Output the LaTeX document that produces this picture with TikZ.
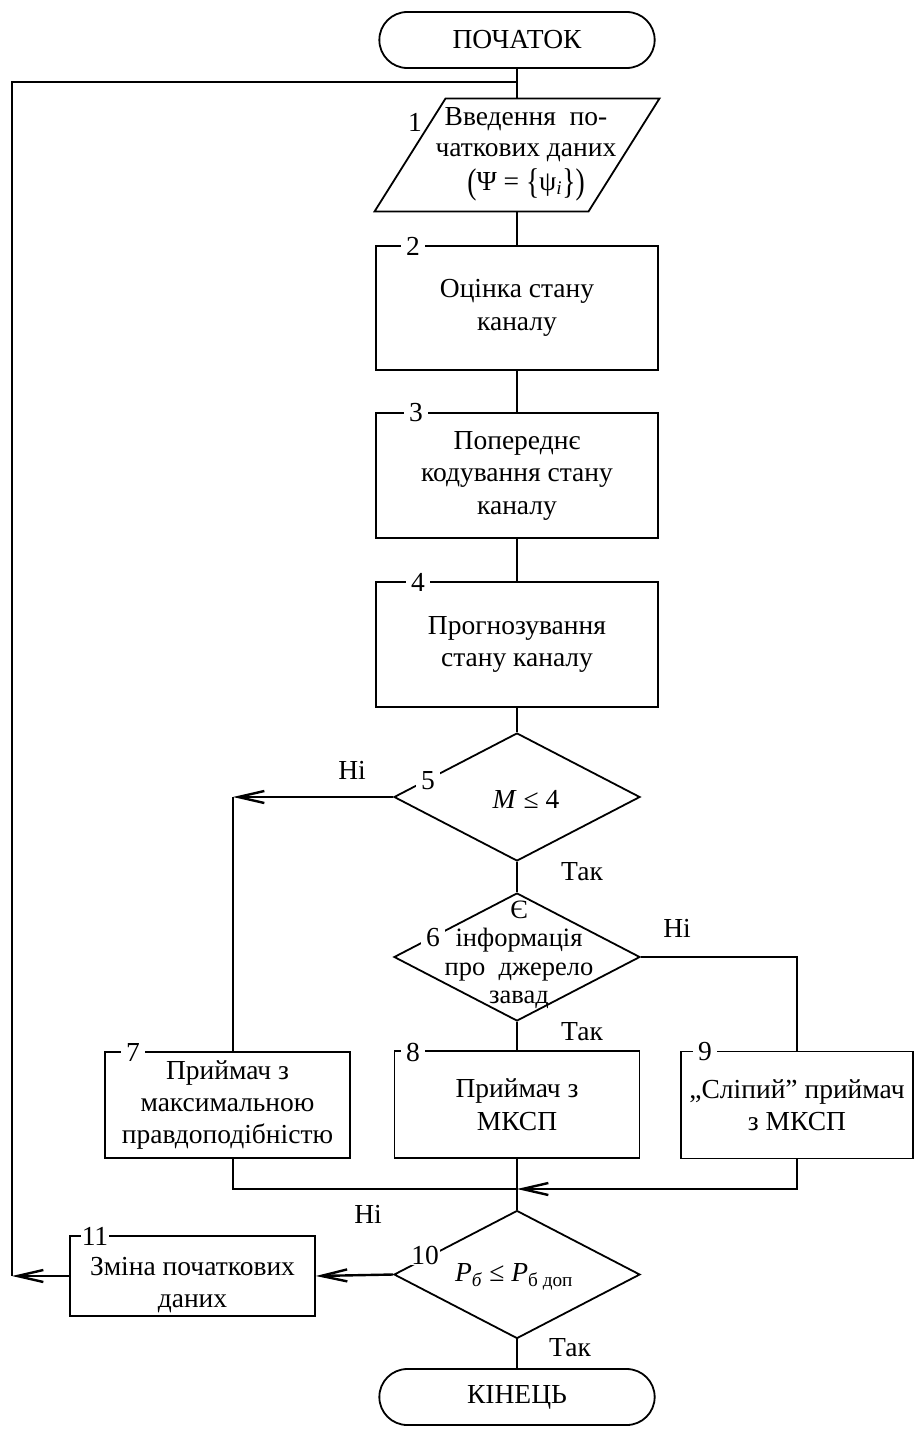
\documentclass[tikz,border=0pt]{standalone}
\usepackage{graphicx}
\usepackage{fontspec}
\setmainfont{Liberation Serif}
\usetikzlibrary{arrows.meta}
\usetikzlibrary{shapes.geometric}
\usetikzlibrary{shapes.misc}
\newcommand\tallp[1]{\raisebox{-0.1em}{\scalebox{1}[1.3]{#1}}}
\tikzstyle{fchead}=[>/.tip={Straight Barb[length=26pt,width=12pt]}]
\tikzstyle{fc}=[line width=1.8pt]
\tikzstyle{arr}=[line width=2.4pt,fchead,->]
\tikzstyle{blk}=[draw,line width=1.8pt,rectangle,align=center,inner sep=0pt]
\tikzstyle{term}=[draw,line width=1.8pt,rounded rectangle,minimum width=282pt,minimum height=56pt]
\tikzstyle{cond}=[draw,line width=1.8pt,diamond,minimum width=246pt,minimum height=128pt,inner sep=0pt]
\tikzstyle{inout}=[draw,line width=1.8pt,trapezium,trapezium left angle=63.6,trapezium right angle=116.4,trapezium stretches=true,minimum width=285pt,minimum height=113pt,inner sep=2pt]
\tikzstyle{num}=[fill=white,inner xsep=5pt,inner ysep=1pt]
\tikzstyle{txt}=[align=center,inner sep=0pt]
\begin{document}
\begin{tikzpicture}[x=1pt,y=-1pt,font=\fontsize{27.5}{32.5}\selectfont]
	\useasboundingbox (0,0) rectangle (915,1429);
	% main column
	\node[term] (st) at (517,40) {ПОЧАТОК};
	\node[inout] (in1) at (517,155) {};
	\node[txt,font=\fontsize{27.5}{31}\selectfont] (in1t) at (526,154) {Введення~~по-\\чаткових даних\\[3pt]\tallp{(}Ψ = \tallp{\{}ψ\textsubscript{\textit{i}}\tallp{\}}\tallp{)}};
	\node[blk,minimum width=282pt,minimum height=124pt] (b2) at (517,308) {Оцінка стану\\каналу};
	\node[blk,minimum width=282pt,minimum height=125pt] (b3) at (517,475.5) {Попереднє\\кодування стану\\каналу};
	\node[blk,minimum width=282pt,minimum height=125pt] (b4) at (517,644.5) {Прогнозування\\стану каналу};
	\node[cond] (d5) at (517,797) {};
	\node[txt] (d5t) at (526,799) {\textit{M} ≤ 4};
	\node[cond] (d6) at (517,957) {};
	\node[txt,font=\fontsize{26.5}{28.5}\selectfont] (d6t) at (519,955) {Є\\інформація\\про~~джерело\\завад};
	\node[blk,minimum width=245pt,minimum height=106pt] (b7) at (227.5,1105) {Приймач з\\максимальною\\правдоподібністю};
	\node[blk,minimum width=245pt,minimum height=107pt] (b8) at (517,1104.5) {Приймач з\\МКСП};
	\node[blk,minimum width=232pt,minimum height=107pt] (b9) at (797,1105) {„Сліпий” приймач\\з МКСП};
	\node[cond] (d10) at (517,1274.5) {};
	\node[txt] (d10t) at (514,1277) {\textit{P}\textsubscript{\textit{б}} ≤ \textit{P}\textsubscript{б доп}};
	\node[blk,minimum width=245pt,minimum height=80pt] (b11) at (192.5,1276) {\rule{0pt}{36pt}Зміна початкових\\даних};
	\node[term] (en) at (517,1397) {КІНЕЦЬ};
	% block numbers
	\node[num,inner xsep=1pt] (n1) at (415,122) {1};
	\node[num] (n2) at (413,246) {2};
	\node[num] (n3) at (416,413) {3};
	\node[num] (n4) at (418,582) {4};
	\node[num] (n5) at (428,781) {5};
	\node[num] (n6) at (433,938) {6};
	\node[num] (n7) at (133,1052) {7};
	\node[num] (n8) at (413,1052) {8};
	\node[num] (n9) at (705,1052) {9};
	\node[num,inner xsep=1pt] (n10) at (425,1255) {10};
	\node[num,inner xsep=1pt] (n11) at (95,1236) {11};
	% answers
	\node (l5n) at (352,770) {Ні};
	\node (l5y) at (582,872) {Так};
	\node (l6n) at (677,928) {Ні};
	\node (l6y) at (582,1032) {Так};
	\node (l10n) at (368,1214) {Ні};
	\node (l10y) at (570,1348) {Так};
	% connectors
	\coordinate (lt) at (12,82);
	\coordinate (lp) at (12,1276);
	\coordinate (c5) at (233,797);
	\coordinate (jn) at (517,1189);
	\draw[fc] (st.south) -- (in1.north);
	\draw[fc] (in1.south) -- (b2.north);
	\draw[fc] (b2.south) -- (b3.north);
	\draw[fc] (b3.south) -- (b4.north);
	\draw[fc] (b4.south) -- (d5.north);
	\draw[arr] (d5.west) -- (c5);
	\draw[fc] (c5) -- (c5 |- b7.north);
	\draw[fc] (d5.south) -- (d6.north);
	\draw[fc] (d6.east) -| (b9.north);
	\draw[fc] (d6.south) -- (b8.north);
	\draw[fc] (c5 |- b7.south) |- (jn);
	\draw[arr] (b9.south) |- (jn);
	\draw[fc] (b8.south) -- (d10.north);
	\draw[arr] (d10.west) -- (b11.east);
	\draw[fc] (d10.south) -- (en.north);
	\draw[arr] (b11.west) -- (lp);
	\draw[fc] (lp) -- (lt) -- (lt -| st.south);
\end{tikzpicture}
\end{document}
